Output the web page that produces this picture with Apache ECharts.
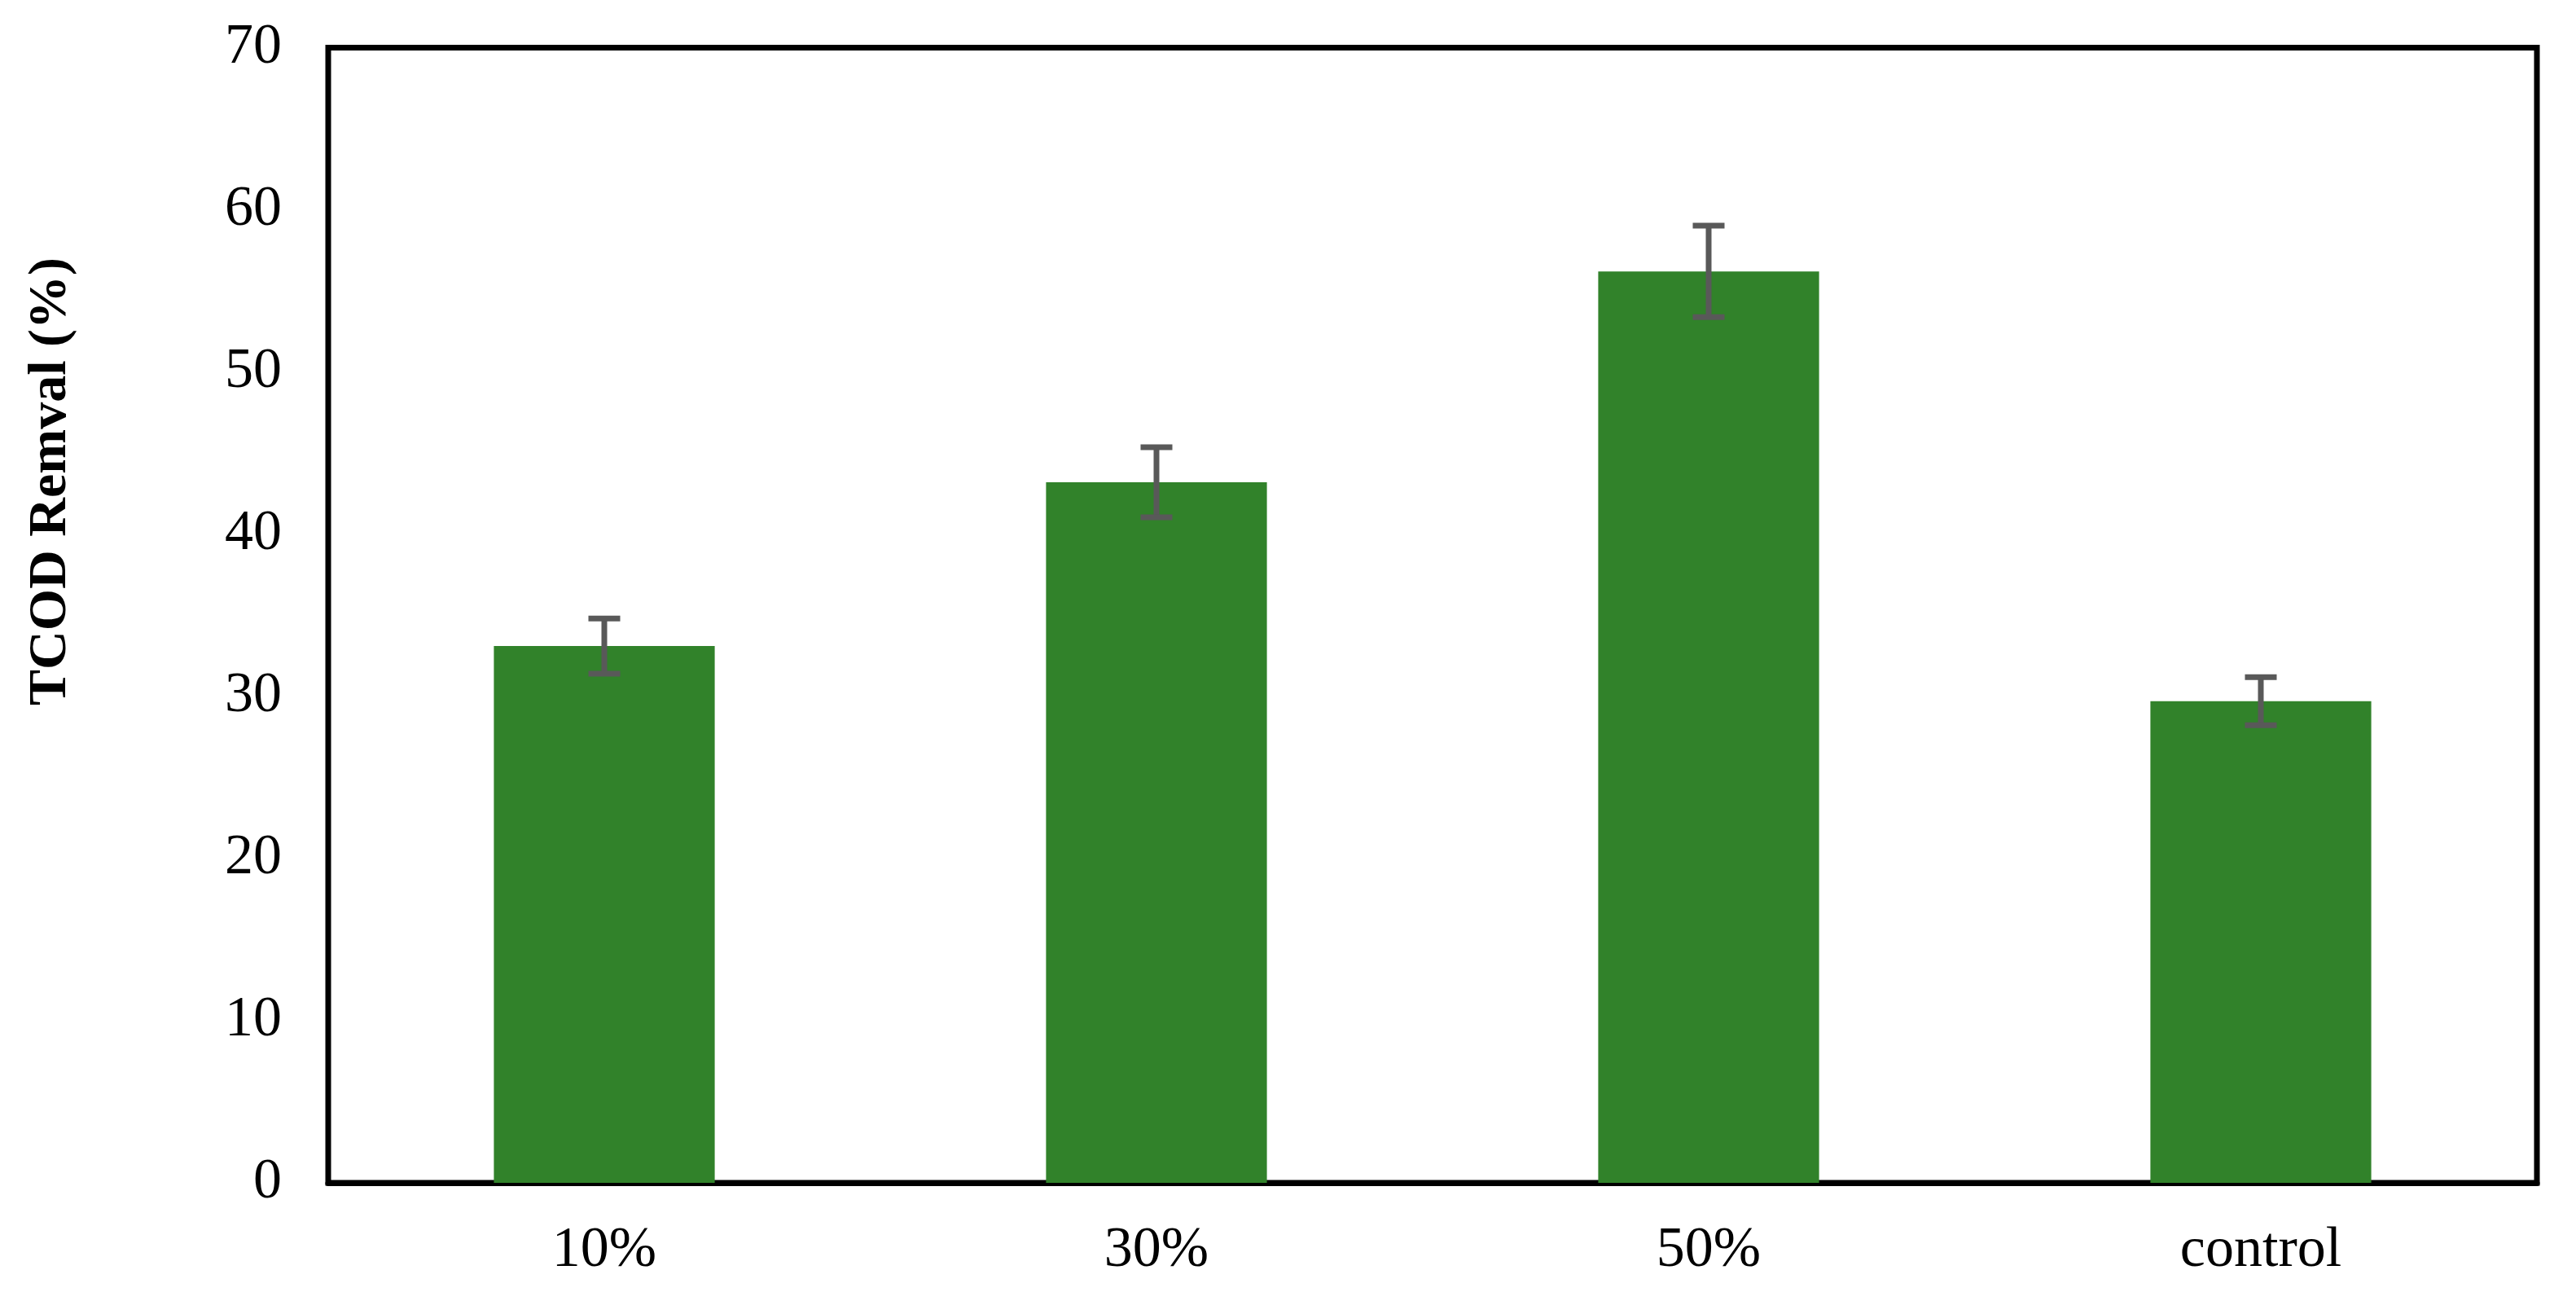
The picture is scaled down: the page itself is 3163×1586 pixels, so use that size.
<!DOCTYPE html>
<html>
<head>
<meta charset="utf-8">
<script src="https://cdn.jsdelivr.net/npm/echarts@6/dist/echarts.min.js"></script>
<style>
html,body{margin:0;padding:0;background:#fff;}
#chart{width:3163px;height:1586px;}
</style>
</head>
<body>
<div id="chart"></div>
<script>
const categories = ['10%', '30%', '50%', 'control'];
const removal = [33.1, 43.2, 56.2, 29.7];
const errors = [1.7, 2.16, 2.82, 1.48];
const yTicks = [0, 10, 20, 30, 40, 50, 60, 70];
const yTitle = 'TCOD Remval (%)';

const chart = echarts.init(document.getElementById('chart'), null, {renderer: 'canvas'});
const font = '"Liberation Serif", "Times New Roman", serif';

const errData = removal.map((v, i) => [i, v - errors[i], v + errors[i]]);

chart.setOption({
  animation: false,
  backgroundColor: '#ffffff',
  grid: {
    left: 403, right: 48, top: 58.5, bottom: 134,
    show: true, borderColor: '#000000', borderWidth: 7, backgroundColor: 'transparent'
  },
  graphic: [{
    type: 'text',
    x: 63, y: 591,
    rotation: Math.PI / 2,
    style: {
      text: yTitle,
      font: 'bold 66px ' + font,
      fill: '#000000',
      textAlign: 'center',
      textVerticalAlign: 'middle'
    }
  }],
  xAxis: {
    type: 'category',
    data: categories,
    axisLine: {show: true, lineStyle: {color: '#000000', width: 7}},
    axisTick: {show: false},
    axisLabel: {color: '#000000', fontFamily: font, fontSize: 70, margin: 49}
  },
  yAxis: {
    type: 'value',
    min: yTicks[0], max: yTicks[yTicks.length - 1], interval: 10,
    axisLine: {show: false},
    axisTick: {show: false},
    splitLine: {show: false},
    axisLabel: {color: '#000000', fontFamily: font, fontSize: 70, margin: 57}
  },
  series: [{
    type: 'bar',
    data: removal,
    barWidth: '40%',
    itemStyle: {color: '#31822a'},
    z: 2
  }, {
    type: 'custom',
    data: errData,
    z: 5,
    renderItem: function (params, api) {
      const x = api.value(0);
      const lo = api.coord([x, api.value(1)]);
      const hi = api.coord([x, api.value(2)]);
      const half = 19.5;
      const st = {stroke: '#595959', lineWidth: 7};
      return {
        type: 'group',
        children: [
          {type: 'line', shape: {x1: hi[0], y1: hi[1], x2: lo[0], y2: lo[1]}, style: st},
          {type: 'line', shape: {x1: hi[0] - half, y1: hi[1], x2: hi[0] + half, y2: hi[1]}, style: st},
          {type: 'line', shape: {x1: lo[0] - half, y1: lo[1], x2: lo[0] + half, y2: lo[1]}, style: st}
        ]
      };
    }
  }]
});
</script>
</body>
</html>
